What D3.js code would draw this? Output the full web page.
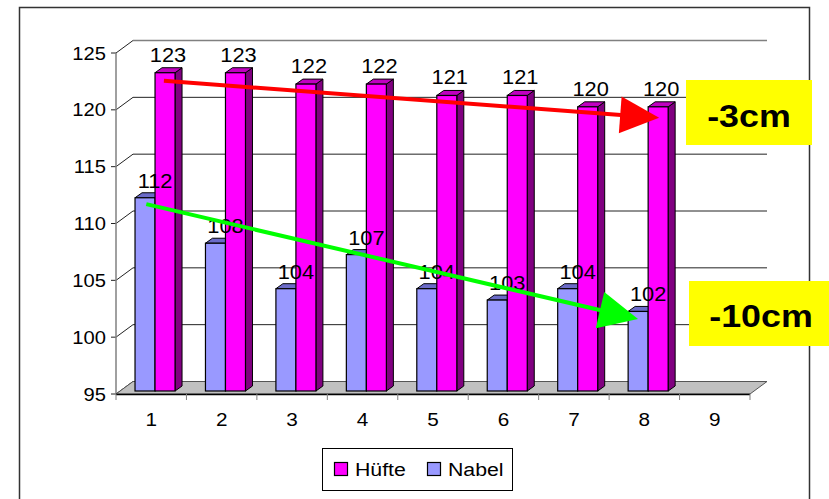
<!DOCTYPE html>
<html>
<head>
<meta charset="utf-8">
<script src="https://cdn.jsdelivr.net/npm/d3@7/dist/d3.min.js"></script>
<style>
  html, body { margin: 0; padding: 0; background: #fff; }
  svg { display: block; font-family: Arial, "Liberation Sans", sans-serif; }
</style>
</head>
<body>
<svg id="chart" width="829" height="499"></svg>
<script>
// Waist measurements over nine sessions (only eight recorded)
const categories = [1, 2, 3, 4, 5, 6, 7, 8, 9];
const hufte = [123, 123, 122, 122, 121, 121, 120, 120, null];
const nabel = [112, 108, 104, 107, 104, 103, 104, 102, null];
const yTicks = [95, 100, 105, 110, 115, 120, 125];
const seriesNames = ["Hüfte", "Nabel"];

// Trend arrows: [position along category axis, value]
const hufteTrend = [[0.68, 122.55], [7.71, 119.3]];
const nabelTrend = [[0.43, 111.7], [7.41, 101.6]];
const notes = ["-3cm", "-10cm"];

const svg = d3.select("#chart");

// Plot geometry (front plane)
const plotLeft = 116, plotRight = 750, plotBottom = 394, plotTop = 53;
const wallDx = 17, wallDy = -12.5;   // depth of the back wall / floor
const barDx = 7, barDy = -5;         // depth of each column
const barLift = 3;                   // columns stand slightly back from the front edge
const sx = 1.12;                     // horizontal text stretch

const y = d3.scaleLinear().domain([95, 125]).range([plotBottom, plotTop]);
const xBand = d3.scaleBand().domain(categories).range([plotLeft, plotRight]).padding(0);
const xLin = d3.scaleLinear().domain([0, categories.length]).range([plotLeft, plotRight]);

function stretchedText(g, x, yy, txt, size, anchor, weight) {
  return g.append("text")
    .attr("transform", `translate(${x},${yy}) scale(${sx},1)`)
    .attr("text-anchor", anchor || "middle")
    .attr("font-size", size)
    .attr("font-weight", weight || "normal")
    .attr("fill", "#000")
    .text(txt);
}

// Outer chart frame
svg.append("rect")
  .attr("x", 19.5).attr("y", 7.5)
  .attr("width", 790).attr("height", 520)
  .attr("fill", "none").attr("stroke", "#333").attr("stroke-width", 1.5);

// Back wall gridlines and their connectors to the value axis
const wall = svg.append("g");
yTicks.forEach(v => {
  const yy = y(v);
  if (v > 95) {
    wall.append("line")
      .attr("x1", plotLeft + wallDx).attr("x2", plotRight + wallDx)
      .attr("y1", yy + wallDy).attr("y2", yy + wallDy)
      .attr("stroke", v === 125 ? "#808080" : "#222")
      .attr("stroke-width", v === 125 ? 1.5 : 1);
  }
  wall.append("line")
    .attr("x1", plotLeft).attr("y1", yy)
    .attr("x2", plotLeft + wallDx).attr("y2", yy + wallDy)
    .attr("stroke", "#222").attr("stroke-width", 1);
  wall.append("line")
    .attr("x1", plotLeft - 5).attr("x2", plotLeft)
    .attr("y1", yy).attr("y2", yy)
    .attr("stroke", "#222").attr("stroke-width", 1);
  stretchedText(svg, plotLeft - 10, yy + 6.5, v, 18, "end");
});

// Value axis line
svg.append("line")
  .attr("x1", plotLeft).attr("x2", plotLeft)
  .attr("y1", y(125)).attr("y2", y(95))
  .attr("stroke", "#808080").attr("stroke-width", 1.5);

// Floor
svg.append("path")
  .attr("d", d3.line()([
    [plotLeft, plotBottom], [plotRight, plotBottom],
    [plotRight + wallDx, plotBottom + wallDy], [plotLeft + wallDx, plotBottom + wallDy]
  ]) + "Z")
  .attr("fill", "#C0C0C0").attr("stroke", "#555").attr("stroke-width", 1);
svg.append("line")
  .attr("x1", plotLeft).attr("x2", plotRight)
  .attr("y1", plotBottom + 0.5).attr("y2", plotBottom + 0.5)
  .attr("stroke", "#000").attr("stroke-width", 1.5);

// Category ticks and labels
categories.forEach(c => {
  svg.append("line")
    .attr("x1", xBand(c)).attr("x2", xBand(c))
    .attr("y1", plotBottom).attr("y2", plotBottom + 6)
    .attr("stroke", "#808080").attr("stroke-width", 1);
  stretchedText(svg, xBand(c) + xBand.bandwidth() / 2, 426, c, 18.5);
});
svg.append("line")
  .attr("x1", plotRight).attr("x2", plotRight)
  .attr("y1", plotBottom).attr("y2", plotBottom + 6)
  .attr("stroke", "#808080").attr("stroke-width", 1);

// 3D columns
const styles = {
  "Hüfte": { front: "#FF00FF", top: "#C000C0", side: "#800080" },
  "Nabel": { front: "#9999FF", top: "#6B6BC8", side: "#4D4D99" }
};
const barW = xBand.bandwidth() * 0.284;
const barOffset = xBand.bandwidth() * 0.27;

function column(g, x0, v, st) {
  const x1 = x0 + barW;
  const yt = y(v) - barLift, yb = y(95) - barLift;
  const ln = d3.line();
  g.append("path").attr("d", ln([[x1, yt], [x1 + barDx, yt + barDy], [x1 + barDx, yb + barDy], [x1, yb]]) + "Z")
    .attr("fill", st.side).attr("stroke", "#000").attr("stroke-width", 1).attr("stroke-linejoin", "round");
  g.append("path").attr("d", ln([[x0, yt], [x1, yt], [x1 + barDx, yt + barDy], [x0 + barDx, yt + barDy]]) + "Z")
    .attr("fill", st.top).attr("stroke", "#000").attr("stroke-width", 1).attr("stroke-linejoin", "round");
  g.append("rect").attr("x", x0).attr("y", yt).attr("width", barW).attr("height", yb - yt)
    .attr("fill", st.front).attr("stroke", "#000").attr("stroke-width", 1.2);
}

const bars = svg.append("g");
const labels = [];
categories.forEach((c, i) => {
  const bx = xBand(c) + barOffset;
  if (nabel[i] != null) {
    column(bars, bx, nabel[i], styles["Nabel"]);
    labels.push([bx + barW / 2 + 10, y(nabel[i]) - barLift - 10, nabel[i]]);
  }
  if (hufte[i] != null) {
    column(bars, bx + barW, hufte[i], styles["Hüfte"]);
    labels.push([bx + barW * 1.5 + 3, y(hufte[i]) - barLift - 11, hufte[i]]);
  }
});
labels.forEach(([lx, ly, v]) => stretchedText(svg, lx, ly, v, 19.5));

// Trend arrows
function arrow(pts, color) {
  const [p0, p1] = pts.map(([c, v]) => [xLin(c), y(v)]);
  const dx = p1[0] - p0[0], dy = p1[1] - p0[1];
  const len = Math.hypot(dx, dy);
  const ux = dx / len, uy = dy / len;
  const head = 39, half = 18.5;
  const bx = p1[0] - ux * head, by = p1[1] - uy * head;
  svg.append("line")
    .attr("x1", p0[0]).attr("y1", p0[1]).attr("x2", bx + ux * 4).attr("y2", by + uy * 4)
    .attr("stroke", color).attr("stroke-width", 4);
  svg.append("path")
    .attr("d", d3.line()([p1, [bx - uy * half, by + ux * half], [bx + uy * half, by - ux * half]]) + "Z")
    .attr("fill", color);
}
arrow(hufteTrend, "#FF0000");
arrow(nabelTrend, "#00FF00");

// Highlighted change notes
const noteBoxes = [
  { x: 686, y: 80, w: 126, h: 65, tx: 749, ty: 127 },
  { x: 689, y: 281, w: 145, h: 65, tx: 761, ty: 327 }
];
notes.forEach((t, i) => {
  const b = noteBoxes[i];
  svg.append("rect").attr("x", b.x).attr("y", b.y).attr("width", b.w).attr("height", b.h)
    .attr("fill", "#FFFF00");
  stretchedText(svg, b.tx, b.ty, t, 32, "middle", "bold");
});

// Legend
const legend = svg.append("g");
legend.append("rect").attr("x", 322.5).attr("y", 448.5).attr("width", 190).attr("height", 42)
  .attr("fill", "#fff").attr("stroke", "#000").attr("stroke-width", 1);
const legendX = [334, 427];
seriesNames.forEach((name, i) => {
  legend.append("rect").attr("x", legendX[i] + 0.5).attr("y", 462.5).attr("width", 13).attr("height", 13)
    .attr("fill", styles[name].front).attr("stroke", "#000").attr("stroke-width", 1.2);
  stretchedText(legend, legendX[i] + 21, 476, name, 19, "start");
});
</script>
</body>
</html>
